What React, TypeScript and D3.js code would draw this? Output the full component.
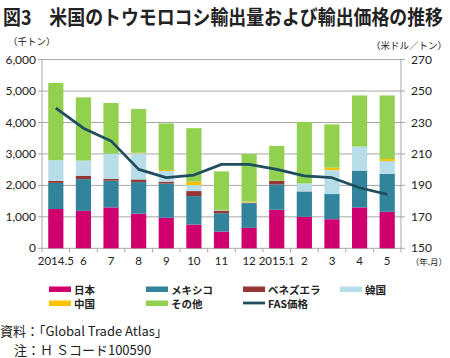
import React from "react";
import * as d3 from "d3";

const categories = ["2014.5", "6", "7", "8", "9", "10", "11", "12", "2015.1", "2", "3", "4", "5"];
const japan = [1250, 1190, 1300, 1100, 970, 755, 530, 650, 1225, 1000, 925, 1300, 1160];
const mexico = [830, 1010, 850, 1005, 1090, 905, 585, 785, 805, 800, 800, 1170, 1210];
const venezuela = [65, 110, 60, 85, 60, 160, 85, 15, 120, 10, 0, 0, 0];
const korea = [660, 480, 800, 830, 340, 190, 20, 10, 0, 255, 765, 765, 405];
const china = [0, 0, 0, 20, 30, 110, 0, 25, 0, 0, 75, 0, 65];
const other = [2455, 2010, 1610, 1390, 1480, 1700, 1225, 1515, 1105, 1955, 1375, 1625, 2020];
const fasPrice = [239.2, 226.4, 218.3, 200.2, 194.9, 196.6, 203.4, 203.4, 200.2, 196, 194.9, 188.5, 184.3];
const leftTicks = [0, 1000, 2000, 3000, 4000, 5000, 6000];
const rightTicks = [150, 170, 190, 210, 230, 250, 270];

const series = [
  { name: "日本", values: japan, color: "#d0006f" },
  { name: "メキシコ", values: mexico, color: "#31849b" },
  { name: "ベネズエラ", values: venezuela, color: "#953735" },
  { name: "韓国", values: korea, color: "#b7dee8" },
  { name: "中国", values: china, color: "#ffc000" },
  { name: "その他", values: other, color: "#92d050" },
];
const stackOrder = ["日本", "メキシコ", "ベネズエラ", "韓国", "中国", "その他"];
const lineColor = "#1f4e5f";

const W = 450, H = 358;
const M = { left: 42, right: 401, top: 59.6, bottom: 248.3 };

export default function App() {
  const x = d3.scaleBand<string>().domain(categories).range([M.left, M.right]).paddingInner(0.45).paddingOuter(0.225);
  const xb = d3.scaleBand<string>().domain(categories).range([M.left, M.right]);
  const yL = d3.scaleLinear().domain([0, 6000]).range([M.bottom, M.top]);
  const yR = d3.scaleLinear().domain([150, 270]).range([M.bottom, M.top]);

  const table = categories.map((c, i) => {
    const row: any = { cat: c };
    series.forEach((s) => (row[s.name] = s.values[i]));
    return row;
  });
  const stacked = d3.stack<any>().keys(stackOrder)(table);
  const colorOf = (k: string) => series.find((s) => s.name === k)!.color;

  const line = d3
    .line<number>()
    .x((_, i) => xb(categories[i])! + xb.bandwidth() / 2)
    .y((d) => yR(d));

  const numFont = "Lato, 'Noto Sans', sans-serif";
  const jpFont = "'Noto Sans CJK JP', sans-serif";

  const legendItems = [
    { name: "日本", color: "#d0006f", x: 49, y: 289, type: "rect" },
    { name: "メキシコ", color: "#31849b", x: 146, y: 289, type: "rect" },
    { name: "ベネズエラ", color: "#953735", x: 243, y: 289, type: "rect" },
    { name: "韓国", color: "#b7dee8", x: 340, y: 289, type: "rect" },
    { name: "中国", color: "#ffc000", x: 49, y: 303, type: "rect" },
    { name: "その他", color: "#92d050", x: 146, y: 303, type: "rect" },
    { name: "FAS価格", color: lineColor, x: 243, y: 303, type: "line" },
  ];

  return (
    <svg width={W} height={H} style={{ position: "absolute", left: 0, top: 0, background: "#fff" }}>
      <text transform="translate(3,25) scale(1,1.15)" x={0} y={0} fontFamily={jpFont} fontWeight={700} fontSize={17.5} fill="#222" textLength={440} lengthAdjust="spacingAndGlyphs">
        図3　米国のトウモロコシ輸出量および輸出価格の推移
      </text>
      <text x={8} y={45} fontFamily={jpFont} fontSize={9.5} fill="#222">（千トン）</text>
      <text x={447} y={49} textAnchor="end" fontFamily={jpFont} fontSize={9.5} fill="#222">（米ドル／トン）</text>

      {/* grid */}
      {leftTicks.map((t) => (
        <line key={t} x1={M.left - 4} x2={M.right} y1={yL(t)} y2={yL(t)} stroke="#a6a6a6" strokeWidth={1} />
      ))}
      {leftTicks.map((t) => (
        <text key={"l" + t} x={36} y={yL(t) + 4} textAnchor="end" fontFamily={numFont} fontSize={12} fill="#222">
          {d3.format(",")(t)}
        </text>
      ))}
      {rightTicks.map((t) => (
        <line key={"rt" + t} x1={M.right} x2={M.right + 4} y1={yR(t)} y2={yR(t)} stroke="#a6a6a6" />
      ))}
      {rightTicks.map((t) => (
        <text key={"r" + t} x={411} y={yR(t) + 4} textAnchor="start" fontFamily={numFont} fontSize={12} fill="#222">
          {t}
        </text>
      ))}
      <line x1={M.left} x2={M.left} y1={M.top} y2={M.bottom} stroke="#a6a6a6" />
      <line x1={M.right} x2={M.right} y1={M.top} y2={M.bottom} stroke="#a6a6a6" />

      {/* bars */}
      {stacked.map((layer) => (
        <g key={layer.key} fill={colorOf(layer.key)}>
          {layer.map((d, i) =>
            d[1] - d[0] > 0 ? (
              <rect key={i} x={x(categories[i])} width={x.bandwidth()} y={yL(d[1])} height={yL(d[0]) - yL(d[1])} />
            ) : null
          )}
        </g>
      ))}

      {/* x axis ticks */}
      {categories.map((c) => (
        <line key={"xt" + c} x1={xb(c)!} x2={xb(c)!} y1={M.bottom} y2={M.bottom + 4} stroke="#a6a6a6" />
      ))}
      <line x1={M.right} x2={M.right} y1={M.bottom} y2={M.bottom + 4} stroke="#a6a6a6" />
      {categories.map((c) => (
        <text key={"xl" + c} x={xb(c)! + xb.bandwidth() / 2} y={265} textAnchor="middle" fontFamily={numFont} fontSize={11.5} fill="#222">
          {c}
        </text>
      ))}
      <text x={447} y={265} textAnchor="end" fontFamily={jpFont} fontSize={8.5} fill="#222">（年.月）</text>

      {/* line */}
      <path d={line(fasPrice)!} fill="none" stroke={lineColor} strokeWidth={2.8} strokeLinejoin="round" />

      {/* legend */}
      {legendItems.map((l) => (
        <g key={l.name}>
          {l.type === "rect" ? (
            <rect x={l.x} y={l.y - 2.5} width={22} height={5.5} fill={l.color} />
          ) : (
            <line x1={l.x} x2={l.x + 22} y1={l.y} y2={l.y} stroke={l.color} strokeWidth={2.8} />
          )}
          <text x={l.x + 25} y={l.y + 4.5} fontFamily={jpFont} fontWeight={700} fontSize={10.5} fill="#222">
            {l.name}
          </text>
        </g>
      ))}

      <text x={0} y={336} fontFamily={jpFont} fontSize={13} fill="#222">資料：「Global Trade Atlas」</text>
      <text x={14} y={355} fontFamily={jpFont} fontSize={13} fill="#222">注：Ｈ Ｓコード100590</text>
    </svg>
  );
}
